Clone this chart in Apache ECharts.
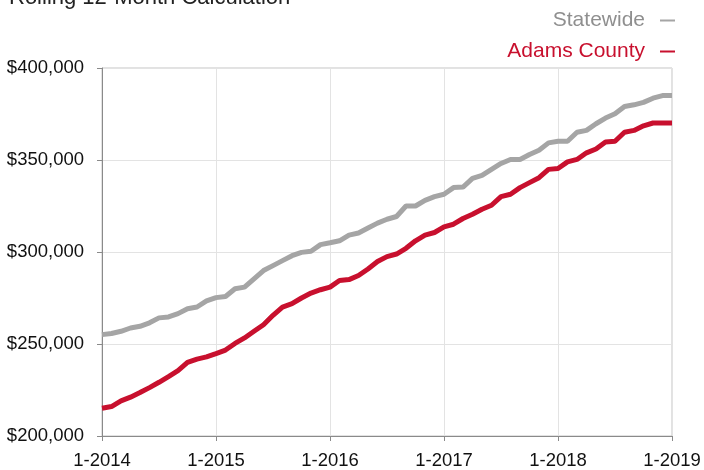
<!DOCTYPE html>
<html>
<head>
<meta charset="utf-8">
<script src="https://cdn.jsdelivr.net/npm/echarts@6/dist/echarts.min.js"></script>
<style>html,body{margin:0;padding:0;background:#fff}#c{width:704px;height:470px}</style>
</head>
<body>
<div id="c"></div>
<script>
const months = [
 '1-2014','2-2014','3-2014','4-2014','5-2014','6-2014','7-2014','8-2014','9-2014','10-2014','11-2014','12-2014',
 '1-2015','2-2015','3-2015','4-2015','5-2015','6-2015','7-2015','8-2015','9-2015','10-2015','11-2015','12-2015',
 '1-2016','2-2016','3-2016','4-2016','5-2016','6-2016','7-2016','8-2016','9-2016','10-2016','11-2016','12-2016',
 '1-2017','2-2017','3-2017','4-2017','5-2017','6-2017','7-2017','8-2017','9-2017','10-2017','11-2017','12-2017',
 '1-2018','2-2018','3-2018','4-2018','5-2018','6-2018','7-2018','8-2018','9-2018','10-2018','11-2018','12-2018',
 '1-2019'
];
const statewide = [
 255100,255700,256900,258700,259600,261500,264200,264700,266500,269200,270100,273400,
 275200,275800,280000,280900,285400,289900,292600,295300,298000,299800,300400,304000,
 305000,306100,309200,310300,313000,315700,317800,319300,325000,325000,328100,330100,
 331400,335000,335300,340000,341600,344900,348100,350300,350300,353000,355300,359300,
 360200,360200,365100,366100,369700,372800,375100,379100,380000,381300,383600,385000,
 385000
];
const adamsCounty = [
 215100,216000,219100,221100,223600,226300,229200,232300,235500,240000,241800,243000,
 244800,246700,250300,253300,256900,260500,265600,270100,271900,275000,277700,279500,
 280900,284500,285000,287200,290800,294800,297500,298900,302000,306100,309200,310600,
 313700,315100,318200,320500,323200,325400,330100,331400,335000,337700,340400,344900,
 345400,349000,350300,353900,356000,359800,360200,365100,366100,368600,370100,370100,
 370100
];
const yTicks = { min: 200000, max: 400000, interval: 50000 };
const titleText = 'Rolling 12-Month Calculation';

const GRAY = '#a5a5a5';
const RED = '#c8102e';
const FONT = 'Liberation Sans, Arial, Helvetica, sans-serif';

const chart = echarts.init(document.getElementById('c'), null, { renderer: 'canvas' });
chart.setOption({
  animation: false,
  textStyle: { fontFamily: FONT },
  title: {
    text: titleText,
    left: 4,
    top: -18,
    textStyle: { fontSize: 22, fontWeight: 'normal', color: '#222', fontFamily: FONT }
  },
  legend: {
    orient: 'vertical',
    right: 24,
    top: 5,
    align: 'right',
    itemGap: 10,
    icon: 'rect',
    itemWidth: 15,
    itemHeight: 2,
    selectedMode: false,
    textStyle: { fontSize: 21, fontFamily: FONT, padding: [0, 10, 0, 0] },
    data: [
      { name: 'Statewide', textStyle: { color: '#8f8f8f' } },
      { name: 'Adams County', textStyle: { color: RED } }
    ]
  },
  grid: {
    left: 102, right: 32, top: 68, bottom: 32,
    show: true, borderColor: '#c4c4c4', borderWidth: 1
  },
  xAxis: {
    type: 'category',
    data: months,
    boundaryGap: false,
    axisLine: { lineStyle: { color: '#8a8a8a', width: 1 } },
    axisTick: { show: true, interval: 11, length: 5, lineStyle: { color: '#8a8a8a' } },
    axisLabel: { interval: 11, fontSize: 18.5, color: '#111', margin: 15, fontFamily: FONT },
    splitLine: { show: true, interval: 11, lineStyle: { color: '#e3e3e3', width: 1 } }
  },
  yAxis: {
    type: 'value',
    min: yTicks.min, max: yTicks.max, interval: yTicks.interval,
    axisLine: { show: true, lineStyle: { color: '#8a8a8a', width: 1 } },
    axisTick: { show: true, length: 5, lineStyle: { color: '#8a8a8a' } },
    axisLabel: {
      fontSize: 18.5, color: '#111', margin: 18, fontFamily: FONT,
      formatter: v => '$' + v.toLocaleString('en-US')
    },
    splitLine: { show: true, lineStyle: { color: '#e3e3e3', width: 1 } }
  },
  series: [
    {
      name: 'Statewide', type: 'line', data: statewide,
      showSymbol: false, symbol: 'none',
      lineStyle: { color: GRAY, width: 5 }, itemStyle: { color: GRAY }
    },
    {
      name: 'Adams County', type: 'line', data: adamsCounty,
      showSymbol: false, symbol: 'none',
      lineStyle: { color: RED, width: 5 }, itemStyle: { color: RED }
    }
  ]
});
</script>
</body>
</html>
